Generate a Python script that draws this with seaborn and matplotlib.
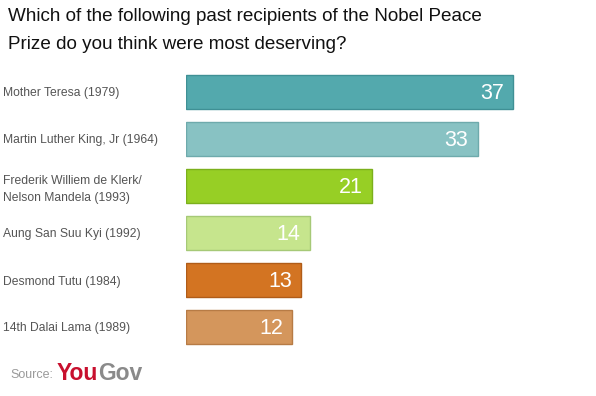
import matplotlib
matplotlib.use("Agg")
import matplotlib.pyplot as plt
import seaborn as sns
import pandas as pd

categories = ["Mother Teresa (1979)", "Martin Luther King, Jr (1964)",
              "Frederik Williem de Klerk/\nNelson Mandela (1993)", "Aung San Suu Kyi (1992)",
              "Desmond Tutu (1984)", "14th Dalai Lama (1989)"]
values = [37, 33, 21, 14, 13, 12]
colors = ["#53a9ad", "#88c2c3", "#97cf25", "#c6e58d", "#d37422", "#d4965c"]
edges = ["#3f9095", "#6eaaac", "#7bb01c", "#a6c977", "#b05c18", "#b77b45"]

df = pd.DataFrame({"cat": categories, "val": values})

sns.set_style("white")
plt.rcParams['font.family'] = ['Liberation Sans', 'DejaVu Sans']

fig = plt.figure(figsize=(5.96, 3.96), dpi=100)
ax = fig.add_axes([186/596, 1-350.5/396, 400/596, (350.5-68.5)/396])

sns.barplot(data=df, x="val", y="cat", hue="cat", palette=colors, legend=False,
            orient="h", width=0.72, ax=ax, saturation=1)
for p, ec in zip(ax.patches, edges):
    p.set_edgecolor(ec)
    p.set_linewidth(1.0)

ax.set_xlim(0, 400/8.84)
ax.set_ylim(5.5, -0.5)
for s in ax.spines.values():
    s.set_visible(False)
ax.set_xticks([])
ax.set_xlabel("")
ax.set_ylabel("")
ax.tick_params(axis="y", length=0, pad=183/1.389, labelsize=8.7, labelcolor="#555555")
for lbl in ax.get_yticklabels():
    lbl.set_horizontalalignment("left")
    lbl.set_linespacing(1.55)

for i, v in enumerate(values):
    ax.text(v - 1.05, i + 0.03, str(v), ha="right", va="center", color="white", fontsize=15.5)

fig.text(8/596, 1-8/396, "Which of the following past recipients of the Nobel Peace\nPrize do you think were most deserving?",
         ha="left", va="top", fontsize=13.6, color="#111111", linespacing=1.85)

fig.text(10/596, 1-375/396, "Source:", ha="left", va="center", fontsize=9, color="#9a9a9a")
t1 = fig.text(57/596, 1-373/396, "You", ha="left", va="center", fontsize=16.5, color="#c8102e", fontweight="bold")
fig.canvas.draw()
bb = t1.get_window_extent()
fig.text(bb.x1/fig.bbox.width, 1-373/396, "Gov", ha="left", va="center", fontsize=16.5, color="#8a8a8a", fontweight="bold")

fig.savefig("out.png", dpi=100)
